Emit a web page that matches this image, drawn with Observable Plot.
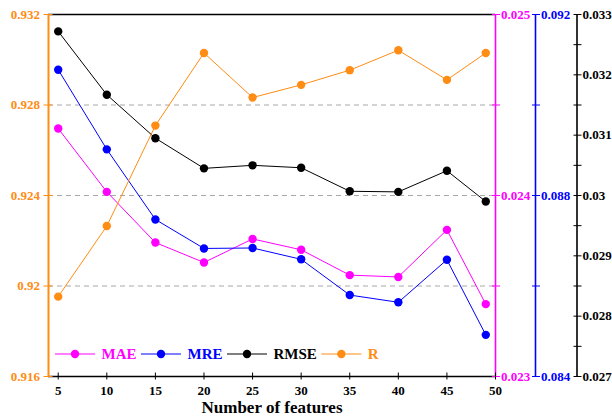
<!DOCTYPE html>
<html>
<head>
<meta charset="utf-8">
<script src="https://cdn.jsdelivr.net/npm/d3@7"></script>
<script src="https://cdn.jsdelivr.net/npm/@observablehq/plot@0.6"></script>
<style>
  body { margin: 0; background: #fff; }
  #chart svg { display: block; }
</style>
</head>
<body>
<div id="chart"></div>
<script>
// Model metrics versus the number of input features
const features = [5, 10, 15, 20, 25, 30, 35, 40, 45, 49];
const maeValues = [0.02437, 0.02402, 0.02374, 0.02363, 0.02376, 0.02370, 0.02356, 0.02355, 0.02381, 0.02340];
const mreValues = [0.09078, 0.08902, 0.08747, 0.08683, 0.08684, 0.08659, 0.08580, 0.08564, 0.08658, 0.08492];
const rmseValues = [0.03272, 0.03167, 0.03095, 0.03045, 0.03050, 0.03046, 0.03007, 0.03006, 0.03041, 0.02990];
const rValues = [0.91953, 0.92265, 0.92709, 0.93030, 0.92833, 0.92889, 0.92954, 0.93042, 0.92911, 0.93030];

// Axis ticks
const xTicks = [5, 10, 15, 20, 25, 30, 35, 40, 45, 50];
const rTicks = [0.916, 0.92, 0.924, 0.928, 0.932];
const gridTicks = [0.92, 0.924, 0.928];
const maeTicks = [0.023, 0.024, 0.025];
const maeMinorTicks = [0.0235, 0.0245];
const mreTicks = [0.084, 0.088, 0.092];
const mreMinorTicks = [0.086, 0.09];
const rmseTicks = [0.027, 0.028, 0.029, 0.03, 0.031, 0.032, 0.033];
const rmseMinorTicks = [0.0275, 0.0285, 0.0295, 0.0305, 0.0315, 0.0325];

// Axis ranges
const xDomain = [4, 50];
const rDomain = [0.916, 0.932];
const maeDomain = [0.023, 0.025];
const mreDomain = [0.084, 0.092];
const rmseDomain = [0.027, 0.033];

const COLORS = {mae: "#ff00ff", mre: "#0000ff", rmse: "#000000", r: "#ff8c14"};
const FONT = "'Liberation Serif', 'Times New Roman', Times, serif";

// The plot has one y scale (in R units); the other metrics are mapped onto it
const toR = ([lo, hi]) => v => rDomain[0] + (v - lo) / (hi - lo) * (rDomain[1] - rDomain[0]);
const fromR = ([lo, hi]) => v => lo + (v - rDomain[0]) / (rDomain[1] - rDomain[0]) * (hi - lo);
const fmt = v => String(+v.toFixed(4));

const maeY = toR(maeDomain), mreY = toR(mreDomain), rmseY = toR(rmseDomain);

const rows = features.map((f, i) => ({
  f,
  mae: maeY(maeValues[i]),
  mre: mreY(mreValues[i]),
  rmse: rmseY(rmseValues[i]),
  r: rValues[i]
}));

const width = 612, height = 420;
const marginLeft = 48, marginRight = 117, marginTop = 14, marginBottom = 44;
const blueOffset = 40, blackOffset = 81.5;

function series(key) {
  return [
    Plot.line(rows, {x: "f", y: key, stroke: COLORS[key], strokeWidth: 1}),
    Plot.dot(rows, {x: "f", y: key, fill: COLORS[key], r: 4.2})
  ];
}

function rightAxis(ticks, minor, domain, color, offset) {
  const back = fromR(domain);
  const common = {anchor: "right", tickSize: 8, dx: offset - 4, label: null};
  return [
    Plot.ruleX([xDomain[1]], {y1: rDomain[0], y2: rDomain[1], stroke: color, strokeWidth: 1.6, dx: offset}),
    Plot.axisY(ticks.map(toR(domain)), {
      ...common, stroke: color, fill: color, tickPadding: 1.5,
      tickFormat: v => fmt(back(v)), fontSize: 13, fontWeight: "bold"
    }),
    Plot.axisY(minor.map(toR(domain)), {...common, stroke: color, fill: "none"})
  ];
}

const chart = Plot.plot({
  width, height, marginLeft, marginRight, marginTop, marginBottom,
  style: {fontFamily: FONT, fontWeight: "bold", fontSize: "13px", background: "#fff"},
  x: {domain: xDomain},
  y: {domain: rDomain},
  marks: [
    Plot.ruleY(gridTicks, {stroke: "#a8a8a8", strokeWidth: 1, strokeDasharray: "5,4"}),
    Plot.ruleY([rDomain[1]], {stroke: "#000", strokeWidth: 1.4}),
    Plot.ruleY([rDomain[0]], {stroke: "#000", strokeWidth: 1.4}),
    Plot.ruleX([xDomain[0]], {y1: rDomain[0], y2: rDomain[1], stroke: COLORS.r, strokeWidth: 2}),
    ...rightAxis(maeTicks, maeMinorTicks, maeDomain, COLORS.mae, 0),
    ...rightAxis(mreTicks, mreMinorTicks, mreDomain, COLORS.mre, blueOffset),
    ...rightAxis(rmseTicks, rmseMinorTicks, rmseDomain, COLORS.rmse, blackOffset),
    ...series("mae"),
    ...series("mre"),
    ...series("rmse"),
    ...series("r"),
    Plot.axisY(rTicks, {
      anchor: "left", tickSize: 9, dx: 4.5, tickPadding: 4, label: null,
      stroke: COLORS.r, fill: COLORS.r, tickFormat: fmt, fontSize: 13, fontWeight: "bold"
    }),
    Plot.axisX(xTicks, {
      anchor: "bottom", tickSize: 7, dy: -3.5, tickPadding: 6, label: null,
      stroke: "#000", fill: "#000", tickFormat: d => String(d), fontSize: 13, fontWeight: "bold"
    }),
    Plot.text(["Number of features"], {
      frameAnchor: "bottom", dy: 36, fontSize: 17, fontWeight: "bold", fill: "#000"
    })
  ]
});

document.getElementById("chart").append(chart);

// Legend inside the bottom of the frame: line–dot–line symbol followed by the series name
const legendItems = [
  {label: "MAE", color: COLORS.mae},
  {label: "MRE", color: COLORS.mre},
  {label: "RMSE", color: COLORS.rmse},
  {label: "R", color: COLORS.r}
];
const legend = d3.select(chart).append("g")
  .attr("font-family", FONT).attr("font-size", 15).attr("font-weight", "bold")
  .attr("text-anchor", "start");
let lx = marginLeft + 7;
const ly = height - marginBottom - 22;
for (const item of legendItems) {
  const g = legend.append("g").attr("transform", `translate(${lx},${ly})`);
  g.append("line").attr("x1", 0).attr("x2", 40).attr("stroke", item.color).attr("stroke-width", 1);
  g.append("circle").attr("cx", 20).attr("r", 4.2).attr("fill", item.color);
  const t = g.append("text").attr("x", 46.5).attr("dy", "0.35em")
    .attr("text-anchor", "start").attr("fill", item.color).text(item.label);
  lx += 46.5 + t.node().getComputedTextLength() + 4.5;
}
</script>
</body>
</html>
